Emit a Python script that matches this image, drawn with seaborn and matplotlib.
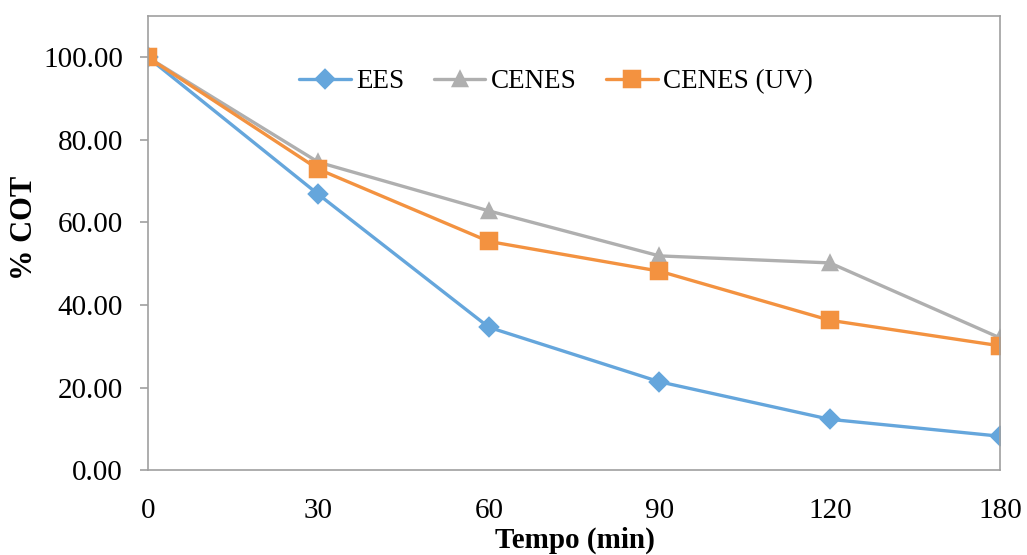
import matplotlib
matplotlib.use("Agg")
import matplotlib.pyplot as plt
import seaborn as sns
import pandas as pd

# Sampling times (min) and % COT remaining for each treatment
tempos = ["0", "30", "60", "90", "120", "180"]
ees = [100.0, 66.8, 34.6, 21.4, 12.3, 8.2]
cenes = [100.0, 74.6, 62.8, 51.9, 50.2, 32.0]
cenes_uv = [100.0, 72.9, 55.4, 48.2, 36.3, 30.1]

series_names = ["EES", "CENES", "CENES (UV)"]
colors = ["#65A6DC", "#AFAFAF", "#F39240"]
markers = ["D", "^", "s"]
marker_sizes = {"D": 9, "^": 10.5, "s": 11.5}

sns.set_theme(style="white")
plt.rcParams["font.family"] = ["Liberation Serif", "DejaVu Serif"]
plt.rcParams["text.color"] = "black"
plt.rcParams["axes.labelcolor"] = "black"

df = pd.DataFrame({
    "Tempo": tempos * 3,
    "COT": ees + cenes + cenes_uv,
    "Serie": sum([[n] * len(tempos) for n in series_names], []),
})

fig = plt.figure(figsize=(10.27, 5.55), dpi=100)
ax = fig.add_axes([0.144, 0.153, 0.830, 0.818])

sns.pointplot(
    data=df, x="Tempo", y="COT", hue="Serie", order=tempos,
    hue_order=series_names, palette=colors, markers=markers,
    linestyles="-", errorbar=None, dodge=False, ax=ax,
    markersize=11, linewidth=2.4,
)
for ln in ax.lines:
    m = ln.get_marker()
    if m in marker_sizes:
        ln.set_markersize(marker_sizes[m])

ax.set_xlim(0, len(tempos) - 1)
ax.set_ylim(0, 110)
ax.set_yticks([0, 20, 40, 60, 80, 100])
ax.set_yticklabels([f"{v:.2f}" for v in [0, 20, 40, 60, 80, 100]])

for s in ax.spines.values():
    s.set_visible(True)
    s.set_color("#A0A0A0")
    s.set_linewidth(1.2)

ax.tick_params(axis="y", direction="out", length=6, width=1.2, color="#A0A0A0",
               pad=12, labelsize=21, left=True, labelcolor="black")
ax.tick_params(axis="x", length=0, pad=20, labelsize=21, labelcolor="black")

ax.set_xlabel("Tempo (min)", fontsize=21, fontweight="bold", va="top")
ax.xaxis.set_label_coords(0.501, -0.125)
ax.set_ylabel("% COT", fontsize=22, fontweight="bold")
ax.yaxis.set_label_coords(-0.128, 0.533)

handles, labels = ax.get_legend_handles_labels()
leg = ax.legend(handles, labels, loc="center", bbox_to_anchor=(0.479, 0.855), ncol=3,
                frameon=False, fontsize=19.5, handlelength=1.9, handletextpad=0.2,
                columnspacing=1.1)
for h in leg.legend_handles:
    m = h.get_marker()
    if m in marker_sizes:
        h.set_markersize(marker_sizes[m])

fig.savefig("out.png", dpi=100)
